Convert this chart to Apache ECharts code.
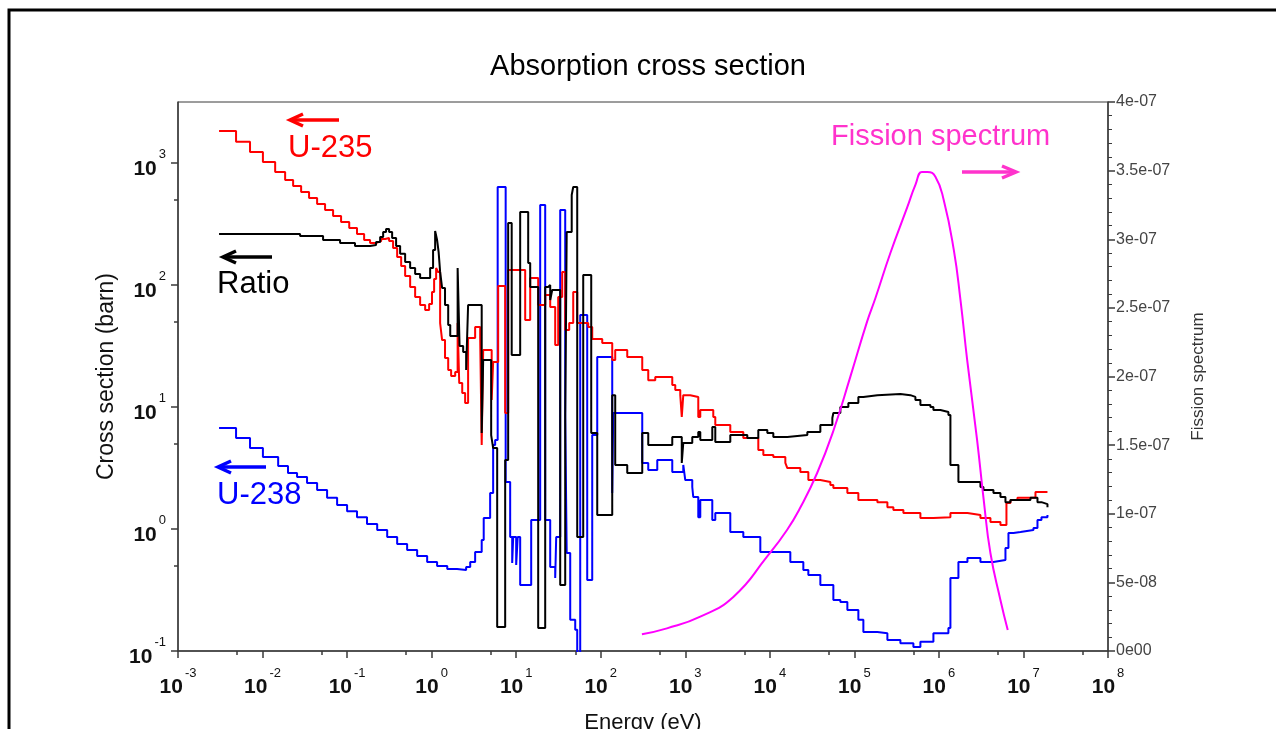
<!DOCTYPE html>
<html>
<head>
<meta charset="utf-8">
<title>Absorption cross section</title>
<script src="https://cdn.jsdelivr.net/npm/echarts@6/dist/echarts.min.js"></script>
<style>
  html, body { margin: 0; padding: 0; background: #fff; }
  #chart { width: 1276px; height: 729px; }
</style>
</head>
<body>
<div id="chart"></div>
<script>
// Multigroup absorption cross sections (barn) versus energy (eV), step per group.
// Each energy is the lower edge of a group; the last entry closes the final group.
const u235Energy = [3.06e-3, 4.86e-3, 7.11e-3, 1.01e-2, 1.41e-2, 1.85e-2, 2.30e-2, 2.86e-2, 3.55e-2, 4.42e-2,
  5.49e-2, 6.83e-2, 8.49e-2, 0.106, 0.131, 0.159, 0.187, 0.220, 0.253, 0.282, 0.314, 0.350, 0.391, 0.436,
  0.486, 0.557, 0.638, 0.731, 0.838, 0.934, 1.01, 1.07, 1.13, 1.19, 1.26, 1.33, 1.44, 1.57, 1.70, 1.90,
  2.03, 2.12, 2.30, 2.49, 2.70, 3.27, 3.75, 3.91, 4.07, 5.13, 5.34, 6.12, 7.41, 8.04, 12.78, 14.65, 18.21,
  22.04, 25.26, 28.94, 31.41, 35.02, 38.01, 42.39, 47.28, 52.72, 71.13, 79.33, 104.2, 136.8, 148.4, 205.9,
  309.8, 364.8, 441.6, 701.7, 761.5, 872.6, 909, 947, 1146, 1425, 1505, 2144, 2265, 3408, 4858, 7309, 8381,
  11000, 15260, 16110, 22960, 28550, 39590, 52000, 56430, 82640, 111500, 187100, 245800, 289400, 380100,
  604000, 860900, 1.368e6, 2.175e6, 3.098e6, 4.07e6, 5.344e6, 6.293e6, 7.02e6, 8.492e6, 1.387e7, 1.923e7];
const u235Sigma = [1830, 1490, 1230, 1020, 844, 726, 648, 578, 517, 461,
  412, 368, 329, 293, 262, 234, 221, 229, 238, 243, 229, 201, 170, 143,
  118.5, 96.3, 79.7, 68.6, 62.4, 69.9, 87.6, 112, 137.8, 127.8, 48.8, 35.4, 25.2, 20.1, 17.95, 19.4,
  48.8, 15.7, 13.0, 10.8, 36.8, 45.3, 36.8, 4.88, 29.3, 11.4, 23.4, 98.1, 8.93, 132.7, 51.7, 114, 68.6,
  82.8, 66.0, 32.2, 79.7, 127.8, 42.8, 48.8, 87.6, 48.8, 45.3, 36.1, 33.5, 24.3, 29.3, 25.7,
  20.1, 16.6, 17.6, 15.15, 13.8, 12.5, 8.28, 12.5, 12.1, 8.28, 9.45, 8.28, 7.12, 6.24, 5.57, 4.44, 4.04,
  3.89, 3.48, 3.16, 2.93, 2.52, 2.43, 2.29, 2.17, 1.97, 1.73, 1.66, 1.51, 1.43, 1.35,
  1.23, 1.25, 1.35, 1.30, 1.23, 1.14, 1.08, 1.63, 1.73, 1.80, 2.01, 2.01];

const ratioEnergy = [3.06e-3, 2.78e-2, 5.20e-2, 8.26e-2, 0.124, 0.187, 0.220, 0.246, 0.267, 0.289, 0.314,
  0.341, 0.380, 0.424, 0.486, 0.557, 0.638, 0.731, 0.960, 1.04, 1.10, 1.16, 1.21, 1.26, 1.33, 1.44, 1.57,
  1.66, 2.03, 2.14, 2.36, 2.56, 2.70, 3.91, 4.07, 5.06, 5.34, 5.96, 7.41, 8.04, 8.85, 11.15, 13.87, 14.65,
  18.21, 22.04, 23.92, 25.26, 26.67, 33.17, 38.01, 39.59, 45.38, 47.28, 52.72, 62.08, 77.20, 90.93, 136.8,
  148.4, 205.9, 309.8, 364.8, 701.7, 909, 947, 1210, 1425, 1505, 2087, 2265, 3408, 5415, 7309, 9342,
  11000, 16110, 27790, 39590, 54900, 56430, 68300, 84920, 111500, 127800, 187100, 350200, 459900, 527200,
  604000, 793300, 860900, 1.042e6, 1.295e6, 1.368e6, 1.701e6, 3.098e6, 3.362e6, 4.416e6, 5.344e6, 6.124e6,
  7.02e6, 1.21e7, 1.465e7, 1.633e7, 1.923e7];
const ratioValue = [262, 252, 234, 221, 209, 213, 225, 247, 272, 288, 272,
  243, 209, 180, 154, 138, 123, 114, 138, 194, 277, 234, 186, 128, 94.5, 68.6, 47.0,
  38.2, 138, 31.6, 28.2, 20.1, 68.6, 6.12, 24.3, 5.89, 4.61, 0.157, 3.68, 322, 26.7, 397, 151.5, 96.3,
  0.154, 96.3, 100, 75.3, 91.0, 0.348, 8.28, 272, 547, 636, 0.860, 121, 6.12, 1.30, 12.5,
  3.35, 2.88, 6.12, 4.88, 5.68, 3.48, 5.07, 5.68, 6.24, 5.36, 6.86, 5.17, 5.89, 5.57, 6.48, 6.12,
  5.68, 5.89, 6.24, 7.12, 8.12, 8.93, 10.0, 10.8, 12.1, 12.5, 12.8, 12.5, 12.1, 11.4,
  10.4, 10.0, 9.45, 9.10, 8.60, 3.35, 2.43, 2.21, 2.09, 1.97, 1.83, 1.66,
  1.73, 1.80, 1.66, 1.60, 1.51];

const u238Energy = [3.06e-3, 4.86e-3, 7.11e-3, 1.01e-2, 1.53e-2, 2.00e-2, 2.56e-2, 3.36e-2, 4.42e-2, 5.80e-2,
  7.62e-2, 0.1, 0.131, 0.172, 0.227, 0.298, 0.391, 0.513, 0.674, 0.885, 1.16, 1.53, 2.00, 2.56, 2.86, 3.27,
  3.91, 4.13, 4.92, 5.34, 5.64, 6.04, 7.51, 8.49, 8.97, 9.22, 10.0, 10.42, 11.15, 15.05, 19.23, 22.04,
  25.26, 28.94, 29.74, 33.17, 38.01, 39.59, 43.57, 49.92, 52.72, 57.20, 69.21, 79.33, 90.93, 136.8, 140.6,
  309.8, 364.8, 466.4, 701.7, 947, 1000, 1210, 1243, 1425, 1505, 2087, 2265, 3408, 4858, 7720, 17480,
  24910, 28550, 39590, 56430, 68300, 82640, 111500, 127800, 187100, 245800, 350200, 499100, 604000, 860900,
  1.295e6, 1.368e6, 1.701e6, 2.175e6, 3.098e6, 4.416e6, 6.124e6, 6.645e6, 7.615e6, 9.215e6, 1.313e7,
  1.465e7, 1.633e7, 1.923e7];
const u238Sigma = [6.73, 5.57, 4.61, 3.89, 3.28, 2.88, 2.67, 2.38, 2.09, 1.80,
  1.57, 1.40, 1.25, 1.10, 0.981, 0.860, 0.753, 0.673, 0.601, 0.537, 0.497, 0.470, 0.461, 0.488, 0.537, 0.648,
  0.812, 1.23, 1.97, 4.88, 5.36, 636, 2.43, 0.860, 0.526, 0.860, 0.507, 0.860, 0.348, 1.185, 453, 1.185,
  0.488, 0.397, 0.860, 412, 8.60, 0.636, 0.180, 0.149, 0.08, 56.8, 0.382, 5.89, 25.7, 1.97, 8.93,
  3.48, 3.05, 3.68, 2.93, 3.35, 2.52, 2.21, 1.83, 1.25, 1.73, 1.185, 1.35, 0.945, 0.860, 0.648, 0.537,
  0.461, 0.420, 0.348, 0.262, 0.252, 0.217, 0.180, 0.143, 0.140, 0.123, 0.116, 0.108, 0.119, 0.140,
  0.154, 0.397, 0.537, 0.578, 0.537, 0.557, 0.699, 0.927, 0.945, 0.981, 1.02,
  1.185, 1.25, 1.30];

// Fission neutron spectrum (per eV), right axis
const fissionEnergy = [307, 607, 1505, 3729, 9268, 15977, 22960, 36190, 56890, 89690, 1.414e5, 1.772e5,
  2.667e5, 4.205e5, 5.3e5, 6.3e5, 7.3e5, 9.09e5, 1.14e6, 1.50e6, 1.80e6, 2.16e6, 2.83e6, 3.39e6, 4.07e6,
  5.34e6, 6.52e6];
const fissionChi = [1.22e-8, 1.65e-8, 2.50e-8, 3.96e-8, 6.87e-8, 8.82e-8, 1.045e-7, 1.295e-7, 1.610e-7,
  1.999e-7, 2.400e-7, 2.570e-7, 2.900e-7, 3.230e-7, 3.40e-7, 3.49e-7, 3.49e-7, 3.456e-7, 3.286e-7, 2.922e-7,
  2.557e-7, 2.120e-7, 1.537e-7, 1.100e-7, 7.12e-8, 3.72e-8, 1.53e-8];

// Axis ticks
const energyDecades = [1e-3, 1e-2, 1e-1, 1, 10, 100, 1e3, 1e4, 1e5, 1e6, 1e7, 1e8];
const energyHalfDecades = [5e-3, 5e-2, 0.5, 5, 50, 500, 5e3, 5e4, 5e5, 5e6, 5e7];
const sigmaDecades = [0.1, 1, 10, 100, 1000];
const sigmaHalfDecades = [0.5, 5, 50, 500];

const FONT = "'Liberation Sans', Arial, sans-serif";
const AXIS_COLOR = '#3a3a3a';

function pairs(xs, ys) {
  return xs.map((x, i) => [x, ys[i]]);
}

// "10" with the decade exponent raised above it
function powerLabel(v) {
  const e = Math.round(Math.log10(v));
  return '{b|10}{s|' + e + '}';
}

function sciLabel(v) {
  if (Math.abs(v) < 1e-15) return '0e00';
  const e = Math.floor(Math.log10(v) + 1e-9);
  const m = parseFloat((v / Math.pow(10, e)).toFixed(2));
  const a = Math.abs(e);
  return m + 'e' + (e < 0 ? '-' : '') + (a < 10 ? '0' + a : '' + a);
}

function powerRich(padTop, padBottom) {
  return {
    b: { fontFamily: FONT, fontSize: 21, fontWeight: 'bold', color: '#111', lineHeight: 20,
         verticalAlign: 'top', padding: [padTop, 0, padBottom, 0] },
    s: { fontFamily: FONT, fontSize: 13, color: '#111', lineHeight: 13, verticalAlign: 'top', padding: [0, 0, 0, 2] }
  };
}

function arrow(x1, x2, y, color, headLen, headHalf) {
  const dir = x2 > x1 ? 1 : -1;
  return [
    { type: 'polyline', silent: true, shape: { points: [[x1, y], [x2, y]] },
      style: { stroke: color, lineWidth: 3.5, fill: null } },
    { type: 'polyline', silent: true,
      shape: { points: [[x2 - dir * headLen, y - headHalf], [x2, y], [x2 - dir * headLen, y + headHalf]] },
      style: { stroke: color, lineWidth: 3.5, fill: null, lineJoin: 'miter' } }
  ];
}

function note(text, x, y, color, size, align) {
  return { type: 'text', silent: true, x: x, y: y,
    style: { text: text, fill: color, fontFamily: FONT, fontSize: size, align: align || 'left', verticalAlign: 'middle' } };
}

const chart = echarts.init(document.getElementById('chart'), null, { renderer: 'canvas', width: 1276, height: 729 });

const logX = { type: 'log', logBase: 10, min: 1e-3, max: 1e8, gridIndex: 0, position: 'bottom' };
const logY = { type: 'log', logBase: 10, min: 0.1, max: Math.pow(10, 3.5), gridIndex: 0, position: 'left' };

const option = {
  animation: false,
  backgroundColor: '#ffffff',
  grid: { left: 178, top: 102, right: 168, bottom: 78, show: true, borderColor: AXIS_COLOR, borderWidth: 1,
    backgroundColor: 'transparent', containLabel: false, outerBoundsMode: 'none' },
  xAxis: [
    Object.assign({}, logX, {
      name: 'Energy (eV)', nameLocation: 'middle', nameGap: 61,
      nameTextStyle: { fontFamily: FONT, fontSize: 22, color: '#111' },
      axisLine: { show: true, lineStyle: { color: AXIS_COLOR, width: 1.5 } },
      axisTick: { show: true, inside: false, length: 7, customValues: energyDecades, lineStyle: { color: AXIS_COLOR, width: 1.5 } },
      minorTick: { show: false },
      splitLine: { show: false },
      axisLabel: { show: true, margin: 16, customValues: energyDecades, formatter: powerLabel, rich: powerRich(10, 7) }
    }),
    Object.assign({}, logX, {
      axisLine: { show: false },
      axisTick: { show: true, inside: false, length: 4, customValues: energyHalfDecades, lineStyle: { color: AXIS_COLOR, width: 1.5 } },
      axisLabel: { show: false },
      splitLine: { show: false }
    })
  ],
  yAxis: [
    Object.assign({}, logY, {
      name: 'Cross section (barn)', nameLocation: 'middle', nameGap: 49, nameRotate: 90,
      nameTextStyle: { fontFamily: FONT, fontSize: 23, color: '#111' },
      axisLine: { show: true, lineStyle: { color: AXIS_COLOR, width: 1.5 } },
      axisTick: { show: true, inside: false, length: 7, customValues: sigmaDecades, lineStyle: { color: AXIS_COLOR, width: 1.5 } },
      splitLine: { show: false },
      axisLabel: { show: true, margin: 12, padding: [0, 0, 10, 0], customValues: sigmaDecades, formatter: powerLabel,
        rich: powerRich(11, 0) }
    }),
    {
      type: 'value', gridIndex: 0, position: 'right', min: 0, max: 4e-7, interval: 5e-8,
      name: 'Fission spectrum', nameLocation: 'middle', nameGap: 82, nameRotate: 90,
      nameTextStyle: { fontFamily: FONT, fontSize: 17, color: '#333' },
      axisLine: { show: true, lineStyle: { color: AXIS_COLOR, width: 1.5 } },
      axisTick: { show: true, inside: false, length: 7, lineStyle: { color: AXIS_COLOR, width: 1.5 } },
      minorTick: { show: true, splitNumber: 5, length: 4, lineStyle: { color: AXIS_COLOR, width: 1 } },
      splitLine: { show: false },
      axisLabel: { show: true, margin: 8, fontFamily: FONT, fontSize: 16, color: '#444', formatter: sciLabel }
    },
    Object.assign({}, logY, {
      axisLine: { show: false },
      axisTick: { show: true, inside: false, length: 4, customValues: sigmaHalfDecades, lineStyle: { color: AXIS_COLOR, width: 1.5 } },
      axisLabel: { show: false },
      splitLine: { show: false }
    })
  ],
  series: [
    { name: 'U-238', type: 'line', xAxisIndex: 0, yAxisIndex: 0, step: 'end', showSymbol: false, clip: true,
      lineStyle: { color: '#0000ff', width: 2 }, itemStyle: { color: '#0000ff' }, data: pairs(u238Energy, u238Sigma) },
    { name: 'U-235', type: 'line', xAxisIndex: 0, yAxisIndex: 0, step: 'end', showSymbol: false, clip: true,
      lineStyle: { color: '#ff0000', width: 2 }, itemStyle: { color: '#ff0000' }, data: pairs(u235Energy, u235Sigma) },
    { name: 'Ratio', type: 'line', xAxisIndex: 0, yAxisIndex: 0, step: 'end', showSymbol: false, clip: true,
      lineStyle: { color: '#000000', width: 2 }, itemStyle: { color: '#000000' }, data: pairs(ratioEnergy, ratioValue) },
    { name: 'Fission spectrum', type: 'line', xAxisIndex: 0, yAxisIndex: 1, smooth: 0.5,
      showSymbol: false, clip: true,
      lineStyle: { color: '#ff00ff', width: 2 }, itemStyle: { color: '#ff00ff' }, data: pairs(fissionEnergy, fissionChi) }
  ],
  graphic: [
    { type: 'rect', silent: true, shape: { x: 9, y: 10, width: 1320, height: 800 },
      style: { fill: null, stroke: '#000', lineWidth: 3 } },
    note('Absorption cross section', 648, 67, '#000', 29, 'center'),
    note('U-235', 288, 148, '#ff0000', 31),
    note('Ratio', 217, 284, '#000000', 31),
    note('U-238', 217, 495, '#0000ff', 31),
    note('Fission spectrum', 831, 137, '#ff33cc', 29),
    ...arrow(339, 290, 120, '#ff0000', 13, 6),
    ...arrow(272, 223, 257, '#000000', 13, 6),
    ...arrow(266, 218, 467, '#0000ff', 13, 6),
    ...arrow(962, 1016, 172, '#ff33cc', 14, 6)
  ]
};

chart.setOption(option);
</script>
</body>
</html>
